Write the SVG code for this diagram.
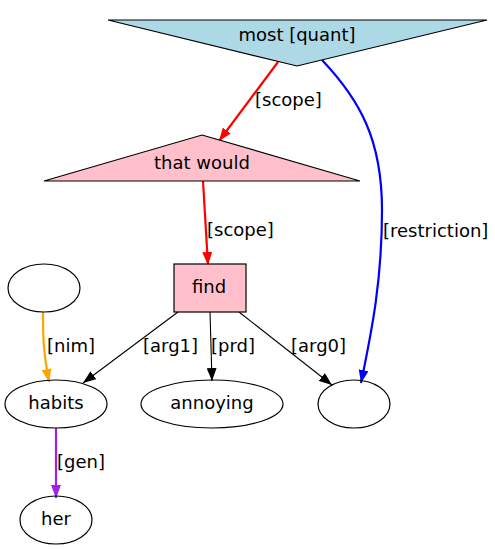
<svg xmlns="http://www.w3.org/2000/svg" width="495" height="549" viewBox="0 0 495 549">
<style>
text { font-family: "DejaVu Sans", sans-serif; font-size: 18px; fill: #000; }
.c { text-anchor: middle; }
.node { stroke: #000; stroke-width: 1.2; }
.e { fill: none; }
.red { stroke: #ff0000; stroke-width: 2.2; }
.blue { stroke: #0000ff; stroke-width: 2.2; }
.orange { stroke: #ffa500; stroke-width: 2.2; }
.purple { stroke: #a020f0; stroke-width: 2.2; }
.black { stroke: #000; stroke-width: 1.1; }
</style>
<defs>
<marker id="aRed" markerUnits="userSpaceOnUse" markerWidth="14" markerHeight="10" refX="13" refY="5" orient="auto"><path d="M0,0 L13,5 L0,10 z" fill="#ff0000"/></marker>
<marker id="aBlue" markerUnits="userSpaceOnUse" markerWidth="14" markerHeight="10" refX="13" refY="5" orient="auto"><path d="M0,0 L13,5 L0,10 z" fill="#0000ff"/></marker>
<marker id="aOrange" markerUnits="userSpaceOnUse" markerWidth="14" markerHeight="10" refX="13" refY="5" orient="auto"><path d="M0,0 L13,5 L0,10 z" fill="#ffa500"/></marker>
<marker id="aPurple" markerUnits="userSpaceOnUse" markerWidth="14" markerHeight="10" refX="13" refY="5" orient="auto"><path d="M0,0 L13,5 L0,10 z" fill="#a020f0"/></marker>
<marker id="aBlack" markerUnits="userSpaceOnUse" markerWidth="14" markerHeight="10" refX="13" refY="5" orient="auto"><path d="M0,0 L13,5 L0,10 z" fill="#000"/></marker>
</defs>
<rect width="495" height="549" fill="#fff"/>
<g id="connectors">
<path class="e red" d="M278,62 L219,141" marker-end="url(#aRed)"/>
<text x="255" y="106">[scope]</text>
<path class="e blue" d="M322,60 C360,100 382,140 382,210 C382,280 372,330 361,383" marker-end="url(#aBlue)"/>
<text x="383" y="237">[restriction]</text>
<path class="e red" d="M203,181 L208,265" marker-end="url(#aRed)"/>
<text x="207" y="236">[scope]</text>
<path class="e orange" d="M43,312 C43,335 43,350 49,382" marker-end="url(#aOrange)"/>
<text x="47" y="352">[nim]</text>
<path class="e black" d="M178,312 L83,383" marker-end="url(#aBlack)"/>
<text x="143" y="352">[arg1]</text>
<path class="e black" d="M210,312 L212,381" marker-end="url(#aBlack)"/>
<text x="211" y="352">[prd]</text>
<path class="e black" d="M239,312 L332,385" marker-end="url(#aBlack)"/>
<text x="291" y="352">[arg0]</text>
<path class="e purple" d="M56,428 L56,498" marker-end="url(#aPurple)"/>
<text x="57" y="468">[gen]</text>
</g>
<g id="most">
<polygon class="node" points="108,20 487,20 297,66" fill="#add8e6"/>
<text class="c" x="297" y="41">most [quant]</text>
</g>
<g id="that_would">
<polygon class="node" points="202,135 360,181 44,181" fill="#ffc0cb"/>
<text class="c" x="202" y="169">that would</text>
</g>
<g id="find">
<rect class="node" x="174" y="264" width="72" height="48" fill="#ffc0cb" stroke="#333"/>
<text class="c" x="209" y="293">find</text>
</g>
<g id="empty1">
<ellipse class="node" cx="44" cy="288" rx="36" ry="24" fill="none"/>
</g>
<g id="habits">
<ellipse class="node" cx="56" cy="404" rx="51" ry="24" fill="none"/>
<text class="c" x="56" y="409">habits</text>
</g>
<g id="annoying">
<ellipse class="node" cx="212" cy="404" rx="71" ry="24" fill="none"/>
<text class="c" x="212" y="409">annoying</text>
</g>
<g id="empty2">
<ellipse class="node" cx="354" cy="404" rx="36" ry="24" fill="none"/>
</g>
<g id="her">
<ellipse class="node" cx="56" cy="520" rx="36" ry="24" fill="none"/>
<text class="c" x="56" y="525">her</text>
</g>
</svg>
